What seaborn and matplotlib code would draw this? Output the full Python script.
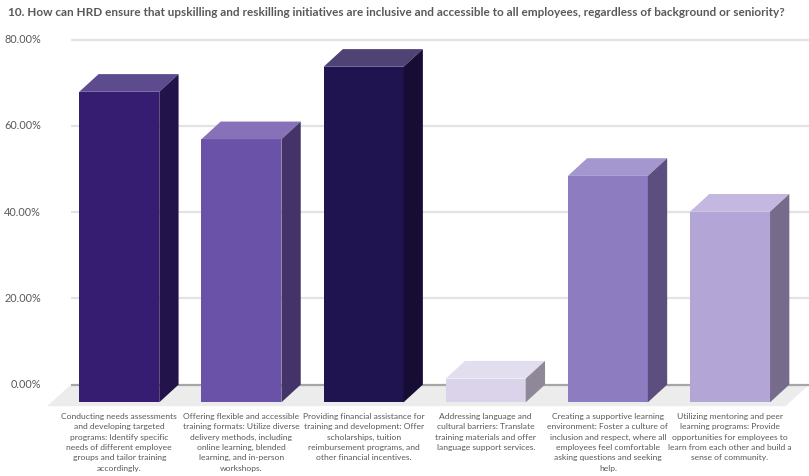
import matplotlib
matplotlib.use("Agg")
import matplotlib.pyplot as plt
from matplotlib.patches import Polygon
import pandas as pd
import seaborn as sns

# ---- data -------------------------------------------------------------
categories = [
    "Conducting needs assessments\nand developing targeted\nprograms: Identify specific\nneeds of different employee\ngroups and tailor training\naccordingly.",
    "Offering flexible and accessible\ntraining formats: Utilize diverse\ndelivery methods, including\nonline learning, blended\nlearning, and in-person\nworkshops.",
    "Providing financial assistance for\ntraining and development: Offer\nscholarships, tuition\nreimbursement programs, and\nother financial incentives.",
    "Addressing language and\ncultural barriers: Translate\ntraining materials and offer\nlanguage support services.",
    "Creating a supportive learning\nenvironment: Foster a culture of\ninclusion and respect, where all\nemployees feel comfortable\nasking questions and seeking\nhelp.",
    "Utilizing mentoring and peer\nlearning programs: Provide\nopportunities for employees to\nlearn from each other and build a\nsense of community.",
]
percent = [72.0, 61.0, 77.8, 5.5, 52.5, 44.2]
y_ticks = [0, 20, 40, 60, 80]
y_tick_labels = ["0.00%", "20.00%", "40.00%", "60.00%", "80.00%"]
title = ("10. How can HRD ensure that upskilling and reskilling initiatives are inclusive "
         "and accessible to all employees, regardless of background or seniority?")

# face colours: front, top, side
front_colors = ["#361d72", "#6a52a8", "#201450", "#dbd3e9", "#8d7cc0", "#b3a5d5"]
top_colors = ["#5d4a8f", "#8771b8", "#4f4275", "#e3ddf0", "#a497d0", "#c4b8e0"]
side_colors = ["#22144a", "#433368", "#160c34", "#8e8898", "#5c4f7f", "#776b8c"]

# ---- style ------------------------------------------------------------
sns.set_theme(style="white")
plt.rcParams["font.family"] = ["Lato", "DejaVu Sans"]
TEXT = "#595959"

W, H = 809, 476
fig = plt.figure(figsize=(W / 100, H / 100), dpi=100)
fig.patch.set_facecolor("white")

# front plane of the bars: category -0.5..5.5, value 0..80
left_px, right_px = 58.2, 791.1
zero_px, top_px = 402.3, 57.3
ax = fig.add_axes([left_px / W, 1 - zero_px / H,
                   (right_px - left_px) / W, (zero_px - top_px) / H])

df = pd.DataFrame({"category": categories, "percent": percent})
sns.barplot(data=df, x="category", y="percent", hue="category",
            palette=front_colors, saturation=1, width=0.655,
            legend=False, ax=ax, zorder=3, linewidth=0)
ax.set_xlim(-0.5, 5.5)
ax.set_ylim(0, 80)
ax.axis("off")

# depth of the 3-D projection in data units
DX, DY = 0.158, 4.1
FLOOR_DX, FLOOR_DY = 0.196, 5.0

bars = list(ax.patches)

# back-wall gridlines and axis labels
wall_left, wall_right = -0.395, 5.65
for v, lab in zip(y_ticks, y_tick_labels):
    is_zero = v == 0
    ax.plot([wall_left, wall_right], [v + DY, v + DY],
            color="#a6a6a6" if is_zero else "#e3e3e3",
            lw=1.6, zorder=1, clip_on=False, solid_capstyle="butt")
    ax.text(-0.641, v + DY, lab, ha="right", va="center",
            fontsize=7.8, color=TEXT, clip_on=False)

# floor
ax.add_patch(Polygon([(wall_left, DY), (wall_right, DY),
                      (wall_right - FLOOR_DX, DY - FLOOR_DY),
                      (wall_left - FLOOR_DX, DY - FLOOR_DY)],
                     closed=True, facecolor="#ececec", edgecolor="none",
                     zorder=0.5, clip_on=False))

# top and side faces built on each seaborn bar
for patch, tc, sc in zip(bars, top_colors, side_colors):
    x0 = patch.get_x()
    x1 = x0 + patch.get_width()
    h = patch.get_height()
    ax.add_patch(Polygon([(x0, h), (x1, h), (x1 + DX, h + DY), (x0 + DX, h + DY)],
                         closed=True, facecolor=tc, edgecolor="none",
                         zorder=3, clip_on=False))
    ax.add_patch(Polygon([(x1, 0), (x1 + DX, DY), (x1 + DX, h + DY), (x1, h)],
                         closed=True, facecolor=sc, edgecolor="none",
                         zorder=3, clip_on=False))

# category labels under the bars
for i, lab in enumerate(categories):
    ax.text(i, -2.5, lab, ha="center", va="top", multialignment="center",
            fontsize=6.1, color=TEXT, linespacing=1.55, clip_on=False)

fig.text(8 / W, 1 - 12 / H, title, ha="left", va="center",
         fontsize=8.45, color=TEXT, fontweight="bold")

fig.savefig("out.png", dpi=100)
